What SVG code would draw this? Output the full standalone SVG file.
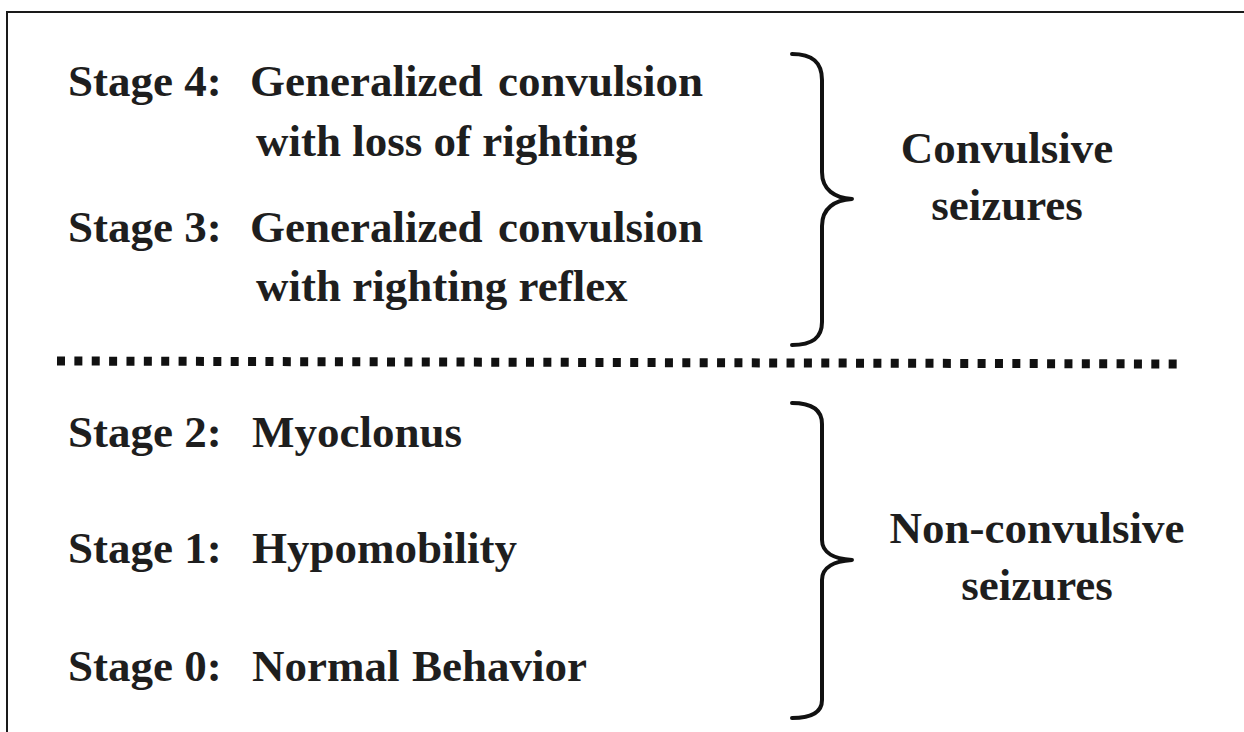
<svg xmlns="http://www.w3.org/2000/svg" width="1244" height="732" viewBox="0 0 1244 732">
<style>
.t{font-family:"Liberation Serif","Times New Roman",serif;font-weight:bold;font-size:45px;fill:#1e1e1e}
.c{text-anchor:middle}
.brace{fill:none;stroke:#111;stroke-width:4;stroke-linecap:round;stroke-linejoin:round}
.frame{fill:none;stroke:#1a1a1a;stroke-width:2}
.dots{fill:none;stroke:#111;stroke-width:9;stroke-dasharray:8 9.37}
</style>
<rect width="1244" height="732" fill="#fff"/>
<path class="frame" d="M7,740 L7,12 L1250,12"/>
<g id="stage4">
<text class="t" y="96"><tspan x="68">Stage 4:</tspan><tspan x="250">Generalized</tspan><tspan x="498">convulsion</tspan></text>
<text class="t" x="256" y="156">with loss of righting</text>
</g>
<g id="stage3">
<text class="t" y="242"><tspan x="68">Stage 3:</tspan><tspan x="250">Generalized</tspan><tspan x="498">convulsion</tspan></text>
<text class="t" x="256" y="301">with righting reflex</text>
</g>
<g id="divider">
<path class="dots" d="M57,361 L1178,364"/>
</g>
<g id="stage2"><text class="t" y="447"><tspan x="68">Stage 2:</tspan><tspan x="252">Myoclonus</tspan></text></g>
<g id="stage1"><text class="t" y="563"><tspan x="68">Stage 1:</tspan><tspan x="252">Hypomobility</tspan></text></g>
<g id="stage0"><text class="t" y="681"><tspan x="68">Stage 0:</tspan><tspan x="252">Normal</tspan><tspan x="412">Behavior</tspan></text></g>
<g id="connectors">
<path class="brace" d="M792,54 C812,54 822,62 822,80 L822,172 C822,190 835,198 852,199 C835,200 822,208 822,226 L822,322 C822,338 812,345 792,345"/>
<path class="brace" d="M792,403 C812,403 822,410 822,424 L822,540 C822,553 835,559 852,560 C835,561 822,567 822,580 L822,700 C822,712 812,718 792,718"/>
</g>
<g id="convulsive">
<text class="t c" x="1007" y="163">Convulsive</text>
<text class="t c" x="1007" y="220">seizures</text>
</g>
<g id="nonconvulsive">
<text class="t c" x="1037" y="543">Non-convulsive</text>
<text class="t c" x="1037" y="600">seizures</text>
</g>
</svg>
